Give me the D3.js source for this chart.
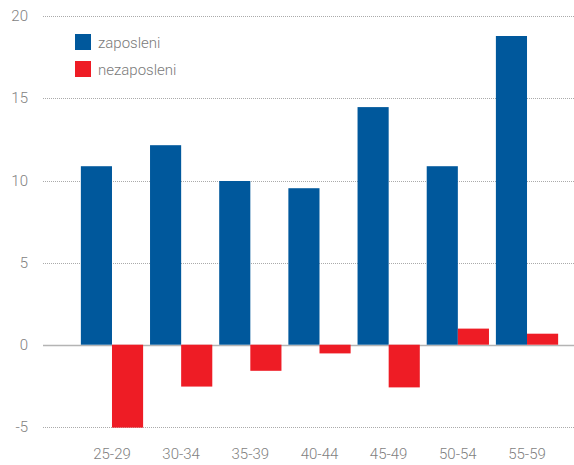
<!DOCTYPE html>
<html>
<head>
<meta charset="UTF-8">
<title>zaposleni / nezaposleni</title>
<script src="https://cdn.jsdelivr.net/npm/d3@7"></script>
<style>
	body{margin:0;background:#fff;}
	text{font-family:Roboto,"Noto Sans",sans-serif;font-weight:300;}
</style>
</head>
<body>
<div id="chart"></div>
<script>
// age groups
var categories = ["25-29","30-34","35-39","40-44","45-49","50-54","55-59"];
var seriesNames = ["zaposleni","nezaposleni"];
var zaposleni = [10.87, 12.15, 9.97, 9.53, 14.47, 10.87, 18.8];
var nezaposleni = [-5.05, -2.55, -1.59, -0.53, -2.6, 0.98, 0.67];
var yTicks = [-5, 0, 5, 10, 15, 20];
var colors = {"zaposleni":"#00589c","nezaposleni":"#ee1c25"};

var width = 574, height = 465;

var svg = d3.select("#chart").append("svg")
	.attr("width",width)
	.attr("height",height);

var y = d3.scaleLinear().domain([-5,20]).range([426.8,16.3]);

var x0 = d3.scaleBand().domain(categories)
	.range([77.4,561.6])
	.paddingInner(0.1)
	.paddingOuter(0.05);
var x1 = d3.scaleBand().domain(seriesNames).range([0,x0.bandwidth()]);

//grid lines
svg.append("g").selectAll("line")
	.data(yTicks)
	.enter().append("line")
	.attr("x1",43).attr("x2",width)
	.attr("y1",function(d){return Math.round(y(d))+0.5;})
	.attr("y2",function(d){return Math.round(y(d))+0.5;})
	.attr("stroke",function(d){return d==0?"#b4b4b4":"#aaa";})
	.attr("stroke-width",function(d){return d==0?1.3:1;})
	.attr("stroke-dasharray",function(d){return d==0?null:"1,1";});

// y labels
svg.append("g").selectAll("text")
	.data(yTicks)
	.enter().append("text")
	.attr("x",28)
	.attr("y",function(d){return y(d)+5;})
	.attr("text-anchor","end")
	.attr("font-size",15)
	.attr("fill","#7f7f7f")
	.text(function(d){return d;});

var rows = categories.map(function(c,i){
	return {cat:c, vals:[{k:"zaposleni",v:zaposleni[i]},{k:"nezaposleni",v:nezaposleni[i]}]};
});

var groups = svg.append("g").selectAll("g")
	.data(rows)
	.enter().append("g")
	.attr("transform",function(d){return "translate("+x0(d.cat)+",0)";});

groups.selectAll("rect")
	.data(function(d){return d.vals;})
	.enter().append("rect")
	.attr("x",function(d){return x1(d.k);})
	.attr("width",x1.bandwidth())
	.attr("y",function(d){return y(Math.max(0,d.v));})
	.attr("height",function(d){return Math.abs(y(d.v)-y(0));})
	.attr("fill",function(d){return colors[d.k];});

// x labels
svg.append("g").selectAll("text")
	.data(categories)
	.enter().append("text")
	.attr("x",function(d){return x0(d)+x0.bandwidth()/2;})
	.attr("y",459)
	.attr("text-anchor","middle")
	.attr("font-size",15)
	.attr("fill","#7f7f7f")
	.text(function(d){return d;});

// legend
var legend = svg.append("g").selectAll("g")
	.data(seriesNames)
	.enter().append("g")
	.attr("transform",function(d,i){return "translate(75,"+(34+i*27)+")";});
legend.append("rect")
	.attr("width",16).attr("height",16)
	.attr("fill",function(d){return colors[d];});
legend.append("text")
	.attr("x",23).attr("y",14)
	.attr("font-size",15)
	.attr("fill","#7a7a7a")
	.text(function(d){return d;});
</script>
</body>
</html>
